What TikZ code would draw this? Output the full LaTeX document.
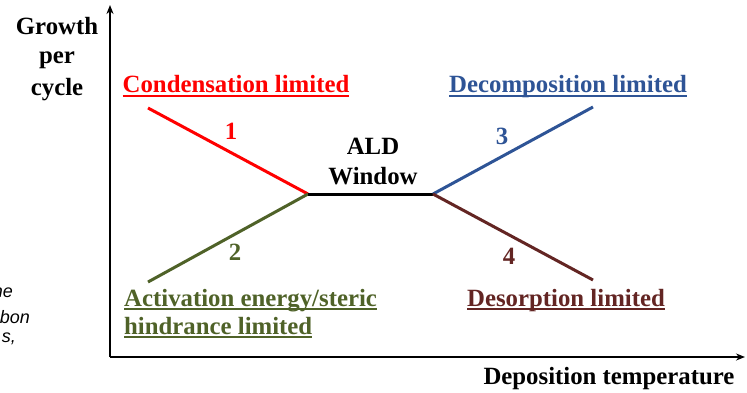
\documentclass[tikz,border=0pt]{standalone}
\usepackage{fontspec}
\setmainfont{Liberation Serif}
\newfontfamily\sidefont{Liberation Sans}
\usetikzlibrary{arrows.meta}
\definecolor{cred}{RGB}{255,0,0}
\definecolor{cblue}{RGB}{46,84,150}
\definecolor{cgreen}{RGB}{79,98,40}
\definecolor{cbrown}{RGB}{99,37,35}
\newcommand\myul[1]{\setbox0\hbox{#1}\leavevmode\rlap{\rule[-4.2pt]{\wd0}{1.8pt}}\box0}
\tikzset{
  lbl/.style={font=\fontsize{24.8}{30}\selectfont\bfseries, inner sep=0pt, anchor=base},
  seg/.style={line width=3pt},
  axis/.style={line width=2pt, -{Stealth[length=9pt,width=7pt]}},
  side/.style={font=\sidefont\itshape\fontsize{18}{20}\selectfont, inner sep=0pt, anchor=base east}
}
\begin{document}
\begin{tikzpicture}[x=1pt,y=-1pt]
\useasboundingbox (0,0) rectangle (747,393);
\clip (0,0) rectangle (747,393);
% axes
\coordinate (O) at (110,357);
\coordinate (Ytop) at (110,5);
\coordinate (Xend) at (745,357);
\draw[axis] (O) -- (Ytop);
\draw[axis] (O) -- (Xend);
% points
\coordinate (L) at (308,194);
\coordinate (R) at (433,194);
\coordinate (A1) at (148,108);
\coordinate (A2) at (148,282);
\coordinate (A3) at (593,107);
\coordinate (A4) at (593,280);
\draw[seg, cred] (A1) -- (L);
\draw[seg, cgreen] (A2) -- (L);
\draw[seg, black] (L) -- (R);
\draw[seg, cblue] (R) -- (A3);
\draw[seg, cbrown] (R) -- (A4);
% labels
\node[lbl] (gy1) at (57,35) {Growth};
\node[lbl] (gy2) at (57,64) {per};
\node[lbl] (gy3) at (57,96) {cycle};
\node[lbl, text=cred] (cond) at (236,93) {\myul{Condensation limited}};
\node[lbl, text=cblue] (dec) at (568,93) {\myul{Decomposition limited}};
\node[lbl, text=cbrown] (des) at (566,306) {\myul{Desorption limited}};
\node[lbl, text=cgreen, anchor=base west] (act1) at (124,306) {\myul{Activation energy/steric}};
\node[lbl, text=cgreen, anchor=base west] (act2) at (124,334) {\myul{hindrance limited}};
\node[lbl] (ald1) at (373,154) {ALD};
\node[lbl] (ald2) at (373,184) {Window};
\node[lbl, text=cred] (n1) at (231,140) {1};
\node[lbl, text=cgreen] (n2) at (235,260) {2};
\node[lbl, text=cblue] (n3) at (502,145) {3};
\node[lbl, text=cbrown] (n4) at (509,264) {4};
\node[lbl] (xlab) at (609,384) {Deposition temperature};
% cut-off side text (cut at the left edge, as in the reference)
\node[side] (s1) at (13,297) {he};
\node[side] (s2) at (30,323) {bon};
\node[side] (s3) at (16,342) {s,};
\end{tikzpicture}
\end{document}
